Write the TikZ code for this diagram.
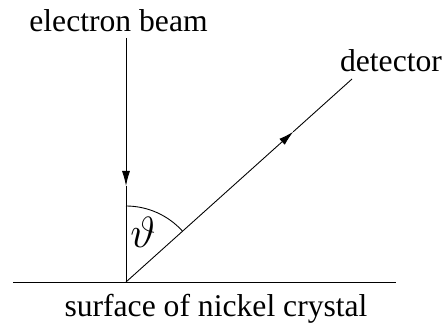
\documentclass[tikz,border=0pt]{standalone}
\usepackage{fontspec}
\setmainfont{Liberation Serif}
\usepackage{amsmath,amssymb}
\usetikzlibrary{arrows.meta,positioning,calc}

\begin{document}
\begin{tikzpicture}[>={Latex[length=3mm,width=1.6mm]}, line width=0.5pt, every node/.style={font=\fontsize{18}{20}\selectfont}]
\tikzstyle{lbl}=[anchor=base,inner sep=0pt]
\useasboundingbox (0,0) rectangle (8.9,6.5);
% points of the set-up
\coordinate (hit) at (2.52,0.86);
\coordinate (beamtop) at (2.52,5.74);
\coordinate (beamtip) at (2.52,2.78);
\coordinate (dettop) at (7.04,4.92);
\coordinate (dettip) at ($(hit)!0.74!(dettop)$);
\coordinate (surfL) at (0.26,0.86);
\coordinate (surfR) at (7.92,0.86);
% labels
\node[lbl] (beam) at (2.37,5.86) {electron beam};
\node[lbl] (detector) at (7.82,5.06) {detector};
\node[lbl] (surface) at (4.32,0.16) {surface of nickel crystal};
\node[font=\fontsize{23}{25}\selectfont] (theta) at (2.86,1.86) {$\vartheta$};
% lines
\draw (surfL) -- (surfR);
\draw[->] (beamtop) -- (beamtip);
\draw (beamtip) -- (hit);
\draw[->] (hit) -- (dettip);
\draw (dettip) -- (dettop);
\draw (hit) ++(90:1.52) arc (90:41.9:1.52);
\end{tikzpicture}
\end{document}
